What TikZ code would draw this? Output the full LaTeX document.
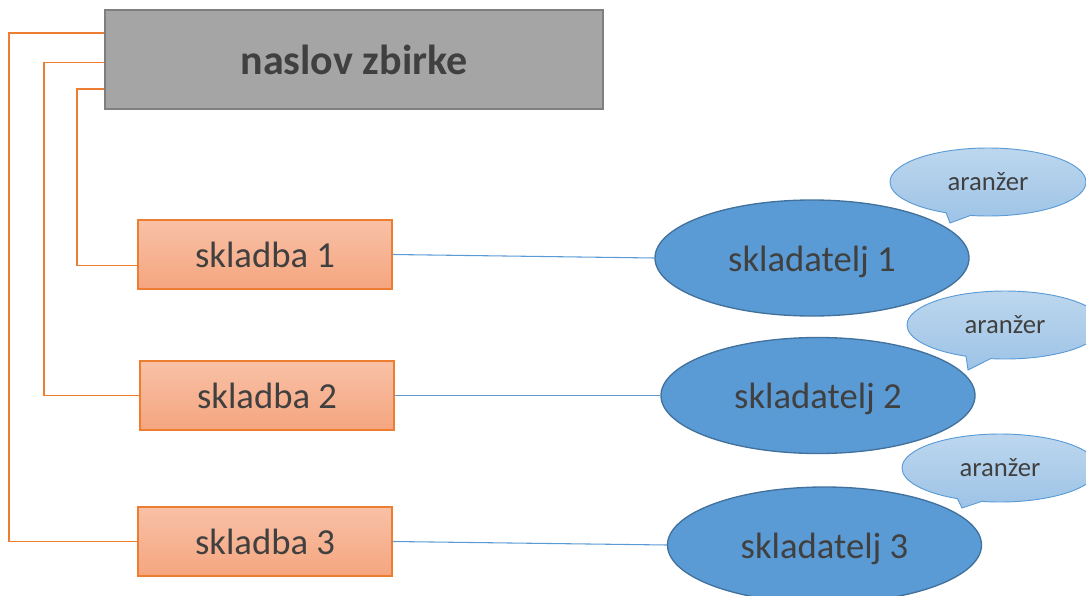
\documentclass[tikz,border=0pt]{standalone}
\usepackage{fontspec}
\setmainfont{Carlito}
\usepackage{tikz}
\usetikzlibrary{shapes.geometric,shapes.callouts}
\definecolor{ink}{HTML}{404040}
\definecolor{titlegray}{HTML}{A5A5A5}
\definecolor{titleedge}{HTML}{7F7F7F}
\definecolor{orange}{HTML}{ED7D31}
\definecolor{orangetop}{HTML}{F8C1A6}
\definecolor{orangebot}{HTML}{F5A57F}
\definecolor{blue}{HTML}{5B9BD5}
\definecolor{blueedge}{HTML}{41719C}
\definecolor{bluetop}{HTML}{BDD7EE}
\definecolor{bluebot}{HTML}{9DC3E6}
\tikzset{
  titlebox/.style={draw=titleedge,fill=titlegray,line width=1.5pt,minimum width=373.5pt,
    minimum height=74.25pt,inner sep=0pt,text=ink,font=\bfseries\fontsize{31.5}{36}\selectfont},
  piece/.style={draw=orange,line width=.9pt,top color=orangetop,bottom color=orangebot,
    minimum width=190.5pt,minimum height=51.75pt,inner sep=0pt,text=ink,
    font=\fontsize{27.5}{32}\selectfont},
  composer/.style={ellipse,draw=blueedge,fill=blue,line width=1pt,minimum width=235.5pt,
    minimum height=87pt,inner sep=0pt,text=ink,text height=25pt,text depth=5.5pt,
    font=\fontsize{27.5}{32}\selectfont},
  bubble/.style={ellipse callout,draw=blue,line width=.7pt,top color=bluetop,bottom color=bluebot,
    minimum width=147pt,minimum height=51pt,inner sep=0pt,text=ink,
    font=\fontsize{20}{24}\selectfont},
  tie/.style={draw=orange,line width=.8pt},
  link/.style={draw=blue,line width=.8pt},
}
\begin{document}
\begin{tikzpicture}[x=.75pt,y=-.75pt]
  \useasboundingbox (0,0) rectangle (1086,596);
  \node[titlebox] (title) at (354,59.5) {naslov zbirke};

  \node[piece] (s1) at (265,254.5) {skladba 1};
  \node[piece] (s2) at (267,395.5) {skladba 2};
  \node[piece] (s3) at (265,541.5) {skladba 3};

  \node[composer] (k1) at (812,258) {skladatelj 1};
  \node[composer] (k2) at (818,395.5) {skladatelj 2};
  \node[composer] (k3) at (824.5,545) {skladatelj 3};

  \node[bubble,callout absolute pointer={(950,223)}] (a1) at (988,182) {aranžer};
  \node[bubble,callout absolute pointer={(968,370)}] (a2) at (1005,325) {aranžer};
  \node[bubble,callout absolute pointer={(962,508)}] (a3) at (1000,468) {aranžer};

  % orange brackets from the title
  \draw[tie] ([yshift=19.9pt]title.west) -- ++(-95,0) |- (s3.west);
  \draw[tie] ([yshift=-1.9pt]title.west) -- ++(-60,0) |- (s2.west);
  \draw[tie] ([yshift=-22.1pt]title.west) -- ++(-27,0) |- ([yshift=-7.9pt]s1.west);

  \draw[link] (s1.east) -- (k1.west);
  \draw[link] (s2.east) -- (k2.west);
  \draw[link] (s3.east) -- (k3.west);
\end{tikzpicture}
\end{document}
